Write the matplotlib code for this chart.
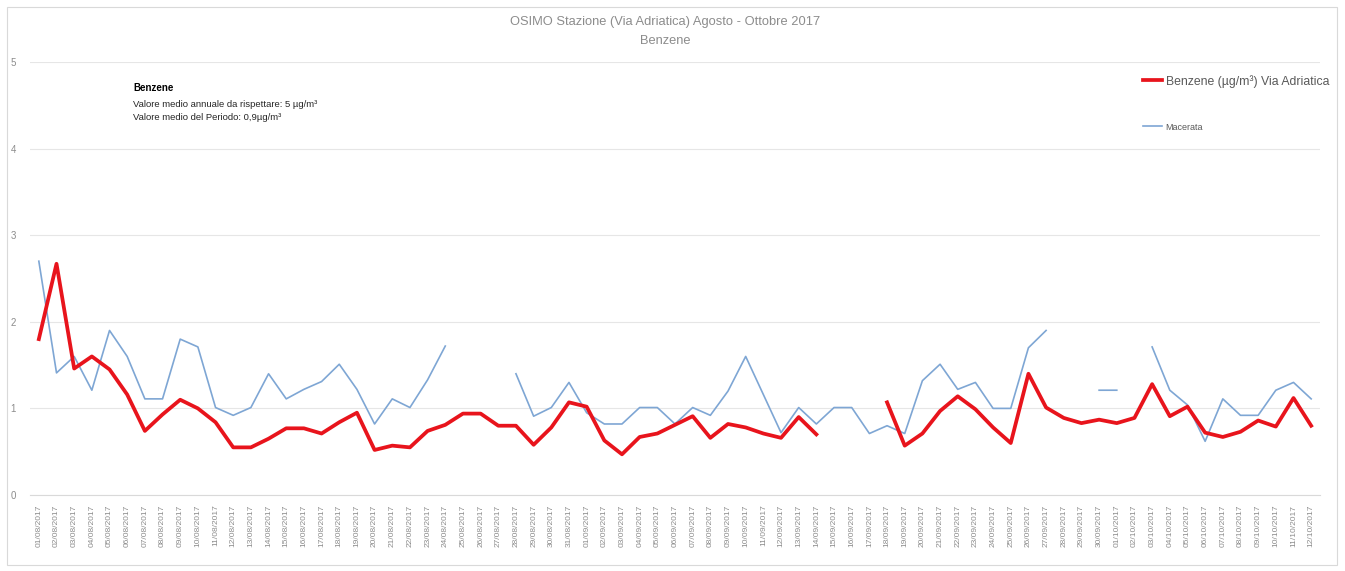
import matplotlib.pyplot as plt
import matplotlib.patches as mpatches
import numpy as np
import pandas as pd

plt.rcParams['font.family'] = ['Liberation Sans', 'DejaVu Sans']

nan = np.nan

# daily dates 01/08/2017 .. 12/10/2017
dates = list(pd.date_range('2017-08-01', '2017-10-12').strftime('%d/%m/%Y'))

benzene_adriatica = [
    1.80, 2.67, 1.46, 1.60, 1.45, 1.16, 0.74, 0.93, 1.10, 1.00,
    0.84, 0.55, 0.55, 0.65, 0.77, 0.77, 0.71, 0.84, 0.95, 0.52,
    0.57, 0.55, 0.74, 0.81, 0.94, 0.94, 0.80, 0.80, 0.58, 0.78,
    1.07, 1.02, 0.63, 0.47, 0.67, 0.71, 0.81, 0.91, 0.66, 0.82,
    0.78, 0.71, 0.66, 0.90, 0.70, nan, nan, nan, 1.07, 0.57,
    0.71, 0.97, 1.14, 0.99, 0.78, 0.60, 1.40, 1.01, 0.89, 0.83,
    0.87, 0.83, 0.89, 1.28, 0.91, 1.02, 0.72, 0.67, 0.73, 0.86,
    0.79, 1.12, 0.80,
]

macerata = [
    2.70, 1.41, 1.60, 1.21, 1.90, 1.60, 1.11, 1.11, 1.80, 1.71,
    1.01, 0.92, 1.01, 1.40, 1.11, 1.22, 1.31, 1.51, 1.22, 0.82,
    1.11, 1.01, 1.33, 1.72, nan, nan, nan, 1.40, 0.91, 1.01,
    1.30, 0.95, 0.82, 0.82, 1.01, 1.01, 0.82, 1.01, 0.92, 1.20,
    1.60, 1.16, 0.72, 1.01, 0.82, 1.01, 1.01, 0.71, 0.80, 0.71,
    1.32, 1.51, 1.22, 1.30, 1.00, 1.00, 1.70, 1.90, nan, nan,
    1.21, 1.21, nan, 1.71, 1.21, 1.04, 0.62, 1.11, 0.92, 0.92,
    1.21, 1.30, 1.11,
]

W, H = 1345, 571
fig = plt.figure(figsize=(W / 100, H / 100), dpi=100)

# chart frame like excel
fig.patches.append(mpatches.Rectangle((7 / W, 6 / H), 1330 / W, 558 / H, transform=fig.transFigure,
                                      fill=False, edgecolor='#d9d9d9', linewidth=0.8))

ax = fig.add_axes([30 / W, (H - 495) / H, 1290 / W, 433 / H])
x = np.arange(len(dates))

ax.plot(x, macerata, color='#7ea6d4', linewidth=1.2, label='Macerata', zorder=3)
ax.plot(x, benzene_adriatica, color='#e8141c', linewidth=2.7, label='Benzene (µg/m³) Via Adriatica', zorder=4)

ax.set_xlim(-0.5, len(dates) - 0.5)
ax.set_ylim(0, 5)
ax.set_yticks([0, 1, 2, 3, 4, 5])
ax.set_yticklabels(['0', '1', '2', '3', '4', '5'])
ax.grid(axis='y', color='#e6e6e6', linewidth=0.8)
ax.set_axisbelow(True)
for s in ['top', 'right', 'left']:
    ax.spines[s].set_visible(False)
ax.spines['bottom'].set_color('#d9d9d9')
ax.tick_params(axis='y', length=0, labelsize=7, labelcolor='#8c8c8c', pad=10)
ax.set_xticks(x)
ax.set_xticklabels(dates, rotation=90, fontsize=6, color='#8c8c8c')
ax.tick_params(axis='x', length=0, pad=7)

fig.text(665 / W, 1 - 22 / H, 'OSIMO Stazione (Via Adriatica) Agosto - Ottobre 2017', ha='center', va='center',
         fontsize=9.3, color='#8c8c8c')
fig.text(665 / W, 1 - 41 / H, 'Benzene', ha='center', va='center', fontsize=9.3, color='#8c8c8c')

fig.text(133 / W, 1 - 88 / H, 'Benzene', ha='left', va='center', fontsize=7, fontweight='bold', color='#000000')
fig.text(133 / W, 1 - 104 / H, 'Valore medio annuale da rispettare: 5 µg/m³', ha='left', va='center',
         fontsize=6.8, color='#262626')
fig.text(133 / W, 1 - 117 / H, 'Valore medio del Periodo: 0,9µg/m³', ha='left', va='center',
         fontsize=6.8, color='#262626')

h, l = ax.get_legend_handles_labels()
leg = fig.legend(h[::-1], l[::-1], loc='upper left', bbox_to_anchor=(1138 / W, 1 - 70 / H), frameon=False,
                 fontsize=8.8, labelspacing=2.8, handlelength=1.6, handletextpad=0.25, borderaxespad=0,
                 labelcolor='#595959')
leg.get_texts()[1].set_fontsize(6.5)

fig.savefig('out.png', dpi=100)
